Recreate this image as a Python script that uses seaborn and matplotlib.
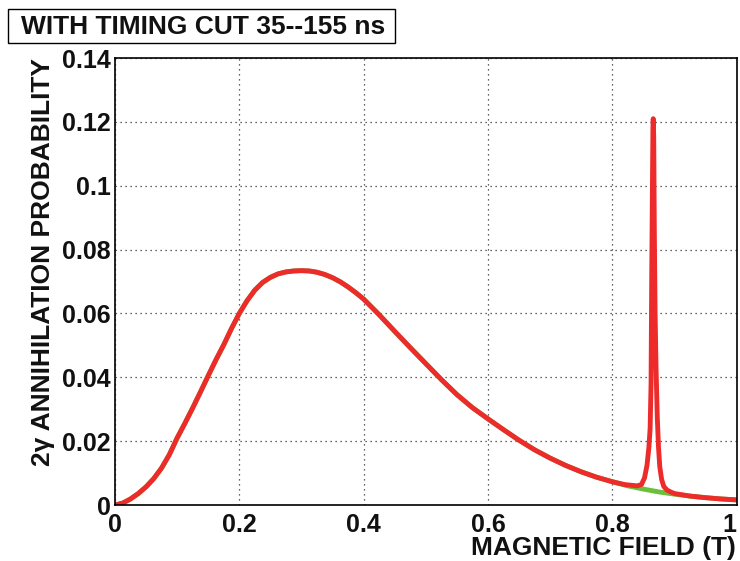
"""
Annihilation probability vs magnetic field, with timing cut.
Green: smooth (non-resonant) curve, red: measured curve with the resonance peak.
"""

import matplotlib
matplotlib.use("Agg")
import matplotlib.pyplot as plt
from matplotlib.patches import Rectangle
from matplotlib.ticker import MultipleLocator
import seaborn as sns

# =========================================================================
# DATA
# =========================================================================
campo = [0.0, 0.0125, 0.025, 0.0375, 0.05, 0.0625, 0.075, 0.0875, 0.1, 0.1125,
         0.125, 0.1375, 0.15, 0.1625, 0.175, 0.1875, 0.2, 0.2125, 0.225, 0.2375,
         0.25, 0.2625, 0.275, 0.2875, 0.3, 0.3125, 0.325, 0.3375, 0.35, 0.3625,
         0.375, 0.3875, 0.4, 0.425, 0.45, 0.475, 0.5, 0.525, 0.55, 0.575,
         0.6, 0.625, 0.65, 0.675, 0.7, 0.725, 0.75, 0.775, 0.8, 0.825,
         0.85, 0.875, 0.9, 0.925, 0.95, 0.975, 1.0]
prob_base = [0.0, 0.0006, 0.0019, 0.0036, 0.0057, 0.0083, 0.0116, 0.0158, 0.0210, 0.0256,
             0.0304, 0.0354, 0.0405, 0.0455, 0.0502, 0.0553, 0.0600, 0.0640, 0.0673, 0.0697,
             0.0713, 0.0724, 0.0730, 0.0733, 0.0734, 0.0733, 0.0729, 0.0722, 0.0712, 0.0699,
             0.0683, 0.0665, 0.0645, 0.0596, 0.0544, 0.0493, 0.0443, 0.0393, 0.0346, 0.0305,
             0.0270, 0.0236, 0.0203, 0.0173, 0.0147, 0.0124, 0.0104, 0.0087, 0.0073, 0.0060,
             0.0050, 0.0041, 0.0034, 0.0028, 0.0023, 0.0019, 0.0016]

# resonance region of the red curve
campo_pico = [0.820, 0.830, 0.840, 0.847, 0.852, 0.856, 0.859, 0.861, 0.8625,
              0.8635, 0.8645, 0.8655, 0.8660, 0.8668, 0.8678, 0.8690, 0.8705,
              0.8725, 0.8745, 0.8765, 0.8795, 0.8830, 0.8880, 0.8950, 0.9000]
prob_pico = [0.0064, 0.0062, 0.0060, 0.0064, 0.0085, 0.0125, 0.0180, 0.0240, 0.0380,
             0.0700, 0.0950, 0.1180, 0.1210, 0.1150, 0.0850, 0.0600, 0.0430,
             0.0275, 0.0180, 0.0120, 0.0080, 0.0058, 0.0047, 0.0040, 0.0036]

xticks = [0, 0.2, 0.4, 0.6, 0.8, 1.0]
xtick_labels = ['0', '0.2', '0.4', '0.6', '0.8', '1']
yticks = [0, 0.02, 0.04, 0.06, 0.08, 0.1, 0.12, 0.14]
ytick_labels = ['0', '0.02', '0.04', '0.06', '0.08', '0.1', '0.12', '0.14']

titulo = "WITH TIMING CUT 35--155 ns"
etiqueta_x = "MAGNETIC FIELD (T)"
etiqueta_y = "2\u03b3 ANNIHILATION PROBABILITY"

# red curve = baseline outside the resonance + resonance points
campo_rojo = [x for x in campo if x < 0.82] + campo_pico + [x for x in campo if x > 0.9]
prob_rojo = ([p for x, p in zip(campo, prob_base) if x < 0.82] + prob_pico
             + [p for x, p in zip(campo, prob_base) if x > 0.9])

# =========================================================================
# PLOT
# =========================================================================
sns.set_theme(style="white")
plt.rcParams['font.family'] = ['Liberation Sans', 'DejaVu Sans']
plt.rcParams['font.weight'] = 'bold'

fig = plt.figure(figsize=(7.4, 5.61), dpi=100)
ax = fig.add_axes([0.1554, 0.0998, 0.8399, 0.7968])

sns.lineplot(x=campo, y=prob_base, ax=ax, color='#6abf3c', lw=3.5, estimator=None, sort=False)
sns.lineplot(x=campo_rojo, y=prob_rojo, ax=ax, color='#ee2b2b', lw=3.5, estimator=None, sort=False)

ax.set_xlim(0, 1)
ax.set_ylim(0, 0.14)
ax.set_xticks(xticks, labels=xtick_labels)
ax.set_yticks(yticks, labels=ytick_labels)
ax.xaxis.set_minor_locator(MultipleLocator(0.05))
ax.yaxis.set_minor_locator(MultipleLocator(0.005))

ax.grid(True, which='major', color='#333333', lw=0.9, linestyle=(0, (1, 3)))
for sp in ax.spines.values():
    sp.set_color('black')
    sp.set_linewidth(1.2)

ax.tick_params(which='both', direction='in', top=False, right=False,
               color='black', width=1.2, labelsize=18, labelcolor='#111111')
ax.tick_params(which='major', length=12)
ax.tick_params(which='minor', length=6)
ax.tick_params(axis='x', which='both', pad=6)
ax.tick_params(axis='y', which='both', pad=3)
for lab in ax.get_xticklabels() + ax.get_yticklabels():
    lab.set_fontweight('bold')
# last x label would fall off the canvas: keep it inside like in the original
ax.get_xticklabels()[-1].set_horizontalalignment('right')

# axis titles, ROOT style: aligned with the far end of each axis
fig.text(736 / 740, 1 - 555 / 561, etiqueta_x, ha='right', va='baseline',
         fontsize=19, fontweight='bold', color='#111111')
ax.set_ylabel(etiqueta_y, loc='top', fontsize=19, fontweight='bold', labelpad=5, color='#111111')

# title box, top left
fig.patches.append(Rectangle((8 / 740, 1 - 43 / 561), 387 / 740, 34 / 561,
                             transform=fig.transFigure, facecolor='white',
                             edgecolor='black', lw=1.0))
fig.text(203 / 740, 1 - 26.5 / 561, titulo, ha='center', va='center',
         fontsize=19, fontweight='bold', color='#111111')

plt.savefig("out.png", dpi=100)
